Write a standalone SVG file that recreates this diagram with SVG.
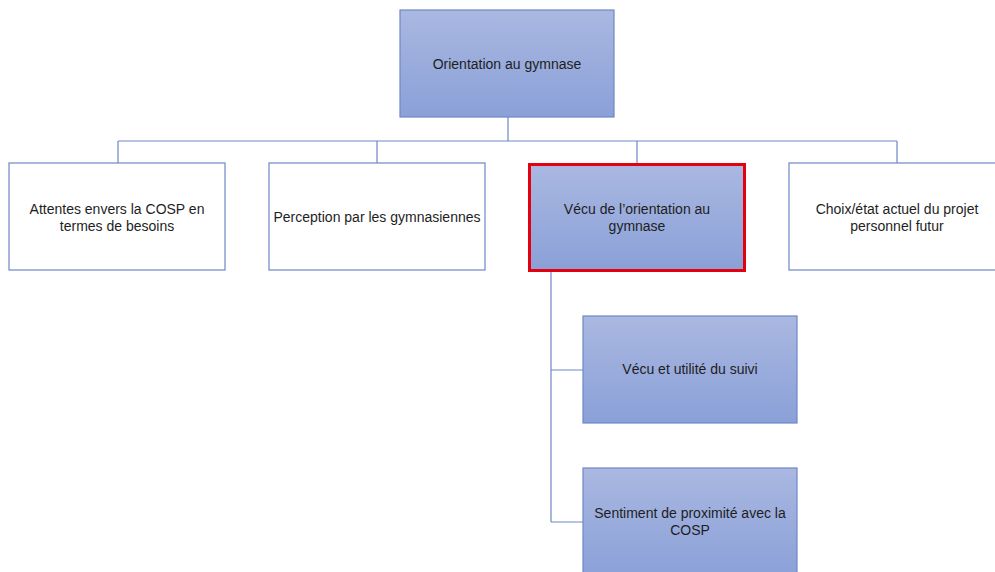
<svg xmlns="http://www.w3.org/2000/svg" width="995" height="572" viewBox="0 0 995 572">
  <defs>
    <linearGradient id="blueFill" x1="0" y1="0" x2="0" y2="1">
      <stop offset="0" stop-color="#aab8e1"/>
      <stop offset="1" stop-color="#8aa0d8"/>
    </linearGradient>
  </defs>
  <style>
    .box { stroke: #6f87c6; stroke-width: 1.2; }
    .filled { fill: url(#blueFill); }
    .plain { fill: #ffffff; }
    .hl { fill: url(#blueFill); stroke: #e3000f; stroke-width: 3; }
    .lbl { font-family: "Liberation Sans", Arial, sans-serif; font-size: 14px; fill: #1e1e1e; text-anchor: middle; }
    .wire { fill: none; stroke: #6f87c6; stroke-width: 1.2; }
  </style>
  <rect width="995" height="572" fill="#ffffff"/>

  <g id="connectors">
    <path class="wire" d="M508 117 V141 M118 141 H897 M118 141 V163 M377 141 V163 M637 141 V163 M897 141 V163"/>
    <path class="wire" d="M551 272 V522 M551 370 H583 M551 522 H583"/>
  </g>

  <g id="root">
    <rect class="box filled" x="400" y="10" width="214" height="107"/>
    <text class="lbl" x="507" y="69">Orientation au gymnase</text>
  </g>

  <g id="attentes">
    <rect class="box plain" x="9" y="163" width="216" height="107"/>
    <text class="lbl" x="117" y="214">Attentes envers la COSP en</text>
    <text class="lbl" x="117" y="231">termes de besoins</text>
  </g>

  <g id="perception">
    <rect class="box plain" x="269" y="163" width="216" height="107"/>
    <text class="lbl" x="377" y="222">Perception par les gymnasiennes</text>
  </g>

  <g id="vecu">
    <rect class="hl" x="529.5" y="164.5" width="215" height="106"/>
    <text class="lbl" x="637" y="214">Vécu de l’orientation au</text>
    <text class="lbl" x="637" y="231">gymnase</text>
  </g>

  <g id="choix">
    <rect class="box plain" x="789" y="163" width="216" height="107"/>
    <text class="lbl" x="897" y="214">Choix/état actuel du projet</text>
    <text class="lbl" x="897" y="231">personnel futur</text>
  </g>

  <g id="suivi">
    <rect class="box filled" x="583" y="316" width="214" height="107"/>
    <text class="lbl" x="690" y="374">Vécu et utilité du suivi</text>
  </g>

  <g id="proximite">
    <rect class="box filled" x="583" y="468" width="214" height="110"/>
    <text class="lbl" x="690" y="518">Sentiment de proximité avec la</text>
    <text class="lbl" x="690" y="535">COSP</text>
  </g>
</svg>
